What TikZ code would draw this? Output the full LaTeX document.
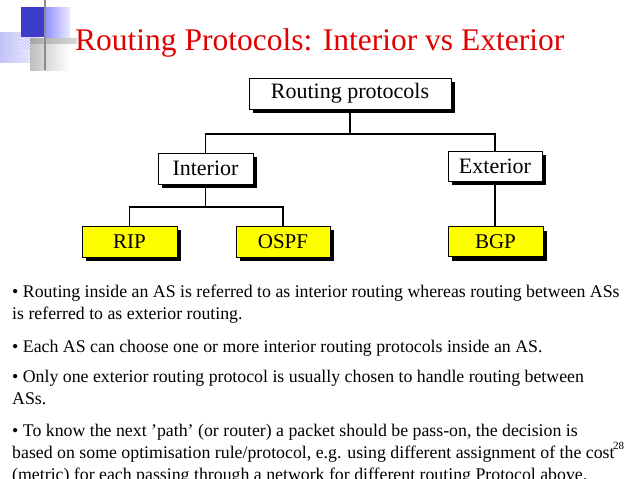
\documentclass[tikz,border=0pt]{standalone}
\usepackage{fontspec}
\setmainfont{Liberation Serif}
\usetikzlibrary{shadows,patterns}
\definecolor{titlered}{RGB}{225,0,0}
\definecolor{boxyellow}{RGB}{255,255,0}
\definecolor{logoblue}{RGB}{60,60,200}
\definecolor{logolav}{RGB}{215,215,248}
\begin{document}
\begin{tikzpicture}[x=1pt,y=-1pt,
  pbox/.style={draw=black, line width=1pt, fill=white, inner sep=0pt,
    minimum height=31pt, minimum width=95pt, font=\fontsize{22}{24}\selectfont,
    drop shadow={shadow xshift=4pt, shadow yshift=-4pt, fill=black, opacity=1}},
  leaf/.style={pbox, fill=boxyellow, font=\fontsize{21}{24}\selectfont},
  conn/.style={line width=1.6pt, black},
  txt/.style={anchor=base west, inner sep=0pt, font=\fontsize{17.8}{20}\selectfont}]
\useasboundingbox (0,0) rectangle (638,479);
\fill[white] (0,0) rectangle (638,479);
% logo
\shade[left color=logolav!90!blue, right color=logolav!40] (0,32) rectangle (39,62);
\fill[logoblue] (21,7) rectangle (44,37);
\shade[left color=blue!45, right color=blue!8] (44,7) rectangle (70,37);
\fill[blue!22] (20,37) rectangle (39,50);
\fill[pattern=north east lines, pattern color=white] (20,37) rectangle (39,50);
\shade[left color=black!25, right color=white] (30,43) rectangle (70,70);
\shade[left color=black!35, right color=black!15] (30,38) rectangle (77,43);
\fill[black!45] (44,0) rectangle (46,70);
% title
\node[anchor=base west, inner sep=0pt, text=titlered, font=\fontsize{31.5}{34}\selectfont] (title) at (75,50) {Routing Protocols: Interior vs Exterior};
% tree
\coordinate (j1) at (0,134);
\coordinate (j2) at (0,207);
\node[pbox, minimum width=202pt, font=\fontsize{22}{26}\selectfont] (root) at (350,93.5) {Routing protocols};
\node[pbox] (int) at (205.5,168.5) {Interior};
\node[pbox, minimum width=94pt, minimum height=30pt] (ext) at (495,166) {Exterior};
\draw[conn] (root.south) -- (root.south |- j1);
\draw[conn] (int.north) -- (int.north |- j1) -- (ext.north |- j1) -- (ext.north);
\draw[conn] (int.south) -- (int.south |- j2);
\node[leaf] (rip) at (129.5,241.5) {RIP};
\node[leaf, minimum width=94pt] (ospf) at (283,241.5) {OSPF};
\node[leaf, minimum height=30pt] (bgp) at (495.5,241.5) {BGP};
\draw[conn] (ext.south) -- (ext.south |- bgp.north);
\draw[conn] (rip.north) -- (rip.north |- j2) -- (ospf.north |- j2) -- (ospf.north);
% text
\node[txt] (l1) at (12,297) {• Routing inside an AS is referred to as interior routing whereas routing between ASs};
\node[txt] (l2) at (12,319) {is referred to as exterior routing.};
\node[txt] (l3) at (12,352) {• Each AS can choose one or more interior routing protocols inside an AS.};
\node[txt] (l4) at (12,382) {• Only one exterior routing protocol is usually chosen to handle routing between};
\node[txt] (l5) at (12,404) {ASs.};
\node[txt] (l6) at (12,436) {• To know the next 'path' (or router) a packet should be pass-on, the decision is};
\node[txt] (l7) at (12,458) {based on some optimisation rule/protocol, e.g. using different assignment of the cost};
\node[txt] (l8) at (12,480) {(metric) for each passing through a network for different routing Protocol above.};
\node[anchor=base west, inner sep=0pt, font=\fontsize{11}{12}\selectfont] (pg) at (613,449) {28};
\end{tikzpicture}
\end{document}
